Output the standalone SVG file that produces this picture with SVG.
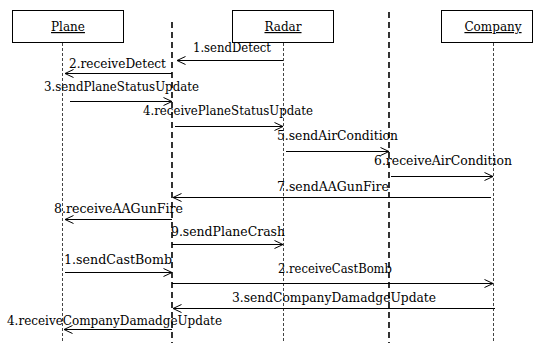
<svg xmlns="http://www.w3.org/2000/svg" width="539" height="343" viewBox="0 0 539 343">
  <style>
    .box { fill: #fff; stroke: #000; stroke-width: 1; }
    .life { stroke: #444; stroke-width: 1; stroke-dasharray: 3 2; fill: none; }
    .sep { stroke: #000; stroke-width: 1.6; stroke-dasharray: 6 4; fill: none; }
    .msg { stroke: #000; stroke-width: 1; fill: none; }
    text { font-family: "DejaVu Serif", "Liberation Serif", serif; font-size: 12px; fill: #000; }
  </style>
  <defs>
    <marker id="open" viewBox="0 0 10 10" refX="9.5" refY="5" markerWidth="10" markerHeight="10" markerUnits="userSpaceOnUse" orient="auto">
      <path d="M1,1 L9.5,5 L1,9" fill="none" stroke="#000" stroke-width="1"/>
    </marker>
  </defs>

  <!-- vertical separators -->
  <g id="separators">
    <line class="sep" x1="172" y1="22" x2="172" y2="343"/>
    <line class="sep" x1="389" y1="12" x2="389" y2="343"/>
  </g>

  <g id="plane">
    <rect class="box" x="12.5" y="10.5" width="111" height="32"/>
    <text x="68" y="31" text-anchor="middle" text-decoration="underline">Plane</text>
    <line class="life" x1="62.5" y1="43" x2="62.5" y2="343"/>
  </g>
  <g id="radar">
    <rect class="box" x="232.5" y="10.5" width="101" height="32"/>
    <text x="283" y="31" text-anchor="middle" text-decoration="underline">Radar</text>
    <line class="life" x1="283.5" y1="43" x2="283.5" y2="343"/>
  </g>
  <g id="company">
    <rect class="box" x="441.5" y="10.5" width="91" height="32"/>
    <text x="493" y="31" text-anchor="middle" text-decoration="underline">Company</text>
    <line class="life" x1="493.5" y1="43" x2="493.5" y2="343"/>
  </g>

  <g id="connectors">
    <line class="msg" x1="283" y1="60.5" x2="177" y2="60.5" marker-end="url(#open)"/>
    <line class="msg" x1="172" y1="73.5" x2="65" y2="73.5" marker-end="url(#open)"/>
    <line class="msg" x1="70" y1="101.5" x2="172" y2="101.5" marker-end="url(#open)"/>
    <line class="msg" x1="175" y1="126.5" x2="283" y2="126.5" marker-end="url(#open)"/>
    <line class="msg" x1="286" y1="151.5" x2="389" y2="151.5" marker-end="url(#open)"/>
    <line class="msg" x1="391" y1="176.5" x2="493" y2="176.5" marker-end="url(#open)"/>
    <line class="msg" x1="491" y1="197.5" x2="173" y2="197.5" marker-end="url(#open)"/>
    <line class="msg" x1="172" y1="219.5" x2="65" y2="219.5" marker-end="url(#open)"/>
    <line class="msg" x1="172" y1="244.5" x2="283" y2="244.5" marker-end="url(#open)"/>
    <line class="msg" x1="65" y1="272.5" x2="172" y2="272.5" marker-end="url(#open)"/>
    <line class="msg" x1="172" y1="283.5" x2="493" y2="283.5" marker-end="url(#open)"/>
    <line class="msg" x1="495" y1="308.5" x2="173" y2="308.5" marker-end="url(#open)"/>
    <line class="msg" x1="172" y1="329.5" x2="64" y2="329.5" marker-end="url(#open)"/>
  </g>

  <g id="labels">
    <text x="193" y="52" textLength="78" lengthAdjust="spacingAndGlyphs">1.sendDetect</text>
    <text x="69" y="68" textLength="97" lengthAdjust="spacingAndGlyphs">2.receiveDetect</text>
    <text x="44" y="91" textLength="155" lengthAdjust="spacingAndGlyphs">3.sendPlaneStatusUpdate</text>
    <text x="143" y="115" textLength="170" lengthAdjust="spacingAndGlyphs">4.receivePlaneStatusUpdate</text>
    <text x="277" y="140" textLength="121" lengthAdjust="spacingAndGlyphs">5.sendAirCondition</text>
    <text x="374" y="165" textLength="138" lengthAdjust="spacingAndGlyphs">6.receiveAirCondition</text>
    <text x="277" y="191" textLength="112" lengthAdjust="spacingAndGlyphs">7.sendAAGunFire</text>
    <text x="54" y="213" textLength="129" lengthAdjust="spacingAndGlyphs">8.receiveAAGunFire</text>
    <text x="171" y="236" textLength="114" lengthAdjust="spacingAndGlyphs">9.sendPlaneCrash</text>
    <text x="64" y="264" textLength="108" lengthAdjust="spacingAndGlyphs">1.sendCastBomb</text>
    <text x="278" y="273" textLength="114" lengthAdjust="spacingAndGlyphs">2.receiveCastBomb</text>
    <text x="232" y="302" textLength="204" lengthAdjust="spacingAndGlyphs">3.sendCompanyDamadgeUpdate</text>
    <text x="7" y="325" textLength="215" lengthAdjust="spacingAndGlyphs">4.receiveCompanyDamadgeUpdate</text>
  </g>
</svg>
